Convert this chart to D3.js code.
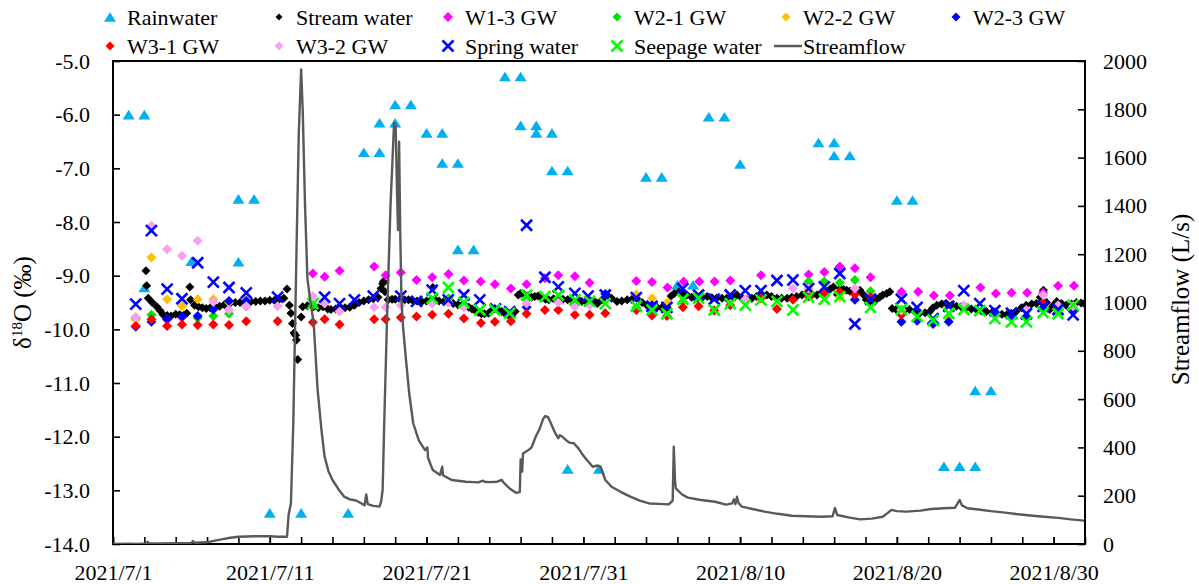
<!DOCTYPE html>
<html>
<head>
<meta charset="utf-8">
<script src="https://cdn.jsdelivr.net/npm/d3@7"></script>
<style>
body{margin:0;background:#fff;}
svg{display:block;}
text{font-family:"Liberation Serif","Times New Roman",serif;fill:#000;}
</style>
</head>
<body>
<div id="chart"></div>
<script>
// x labels and axis ticks
var xLabels = ["2021/7/1","2021/7/11","2021/7/21","2021/7/31","2021/8/10","2021/8/20","2021/8/30"];
var leftTicks = [-14,-13,-12,-11,-10,-9,-8,-7,-6,-5];
var rightTicks = [0,200,400,600,800,1000,1200,1400,1600,1800,2000];

// all series: [day since 2021/7/1 00:00, value]
var rainwater = [[1,-6.0],[2,-6.0],[2,-9.22],[5,-8.73],[8,-7.57],[8,-8.74],[9,-7.57],[10,-13.42],[12,-13.42],[15,-13.42],
	[16,-6.7],[17,-6.7],[17,-6.15],[18,-6.15],[18,-5.81],[19,-5.81],[20,-6.34],[21,-6.34],[21,-6.9],[22,-6.9],[22,-8.51],[23,-8.51],
	[25,-5.29],[26,-5.29],[26,-6.2],[27,-6.2],[27,-6.34],[28,-6.34],[28,-7.04],[29,-7.04],[29,-12.6],[31,-12.6],[34,-7.16],[35,-7.16],
	[36,-9.17],[37,-9.17],[38,-6.04],[39,-6.04],[40,-6.92],[45,-6.52],[46,-6.52],[46,-6.76],[47,-6.76],[50,-7.59],[51,-7.59],
	[53,-12.55],[54,-12.55],[55,-12.55],[55,-11.14],[56,-11.14]];

var streamWater = [[2.1,-8.91],[2.15,-9.19],[2.25,-9.42],[2.5,-9.5],[2.8,-9.58],[3.0,-9.65],[3.2,-9.73],[3.45,-9.74],[3.7,-9.75],[4.0,-9.72],
	[4.25,-9.73],[4.5,-9.74],[4.7,-9.7],[4.9,-9.21],[4.95,-9.45],[5.2,-9.55],[5.45,-9.58],[5.7,-9.6],[5.95,-9.61],[6.2,-9.6],[6.5,-9.58],
	[6.8,-9.57],[7.1,-9.54],[7.45,-9.52],[7.8,-9.5],[8.1,-9.5],[8.5,-9.49],[8.8,-9.48],[9.1,-9.48],[9.4,-9.47],[9.7,-9.47],[10.0,-9.46],
	[10.3,-9.46],[10.6,-9.44],[10.9,-9.42],[11.1,-9.25],[11.25,-9.55],[11.35,-9.7],[11.45,-9.89],[11.55,-10.07],[11.65,-10.11],[11.7,-10.2],
	[11.78,-10.56],[12.0,-9.77],[12.1,-9.58],[12.4,-9.56],[12.8,-9.58],[13.1,-9.6],[13.4,-9.58],[13.7,-9.62],[13.9,-9.63],[14.2,-9.62],
	[14.5,-9.61],[14.8,-9.6],[15.1,-9.59],[15.4,-9.55],[15.7,-9.5],[16.0,-9.47],[16.3,-9.45],[16.6,-9.43],[16.9,-9.4],[17.1,-9.24],
	[17.2,-9.15],[17.25,-9.11],[17.35,-9.3],[17.55,-9.45],[17.8,-9.44],[18.0,-9.44],[18.3,-9.44],[18.6,-9.45],[18.85,-9.45],[19.1,-9.46],
	[19.4,-9.47],[19.7,-9.48],[20.0,-9.47],[20.3,-9.45],[20.4,-9.22],[20.55,-9.45],[20.8,-9.47],[21.1,-9.48],[21.4,-9.5],[21.7,-9.52],
	[22.0,-9.54],[22.25,-9.55],[22.5,-9.57],[22.7,-9.59],[22.9,-9.62],[23.1,-9.65],[23.3,-9.68],[23.5,-9.71],[23.7,-9.71],[23.95,-9.7],
	[24.15,-9.65],[24.35,-9.61],[24.55,-9.64],[24.8,-9.67],[25.0,-9.7],[25.2,-9.73],[25.4,-9.7],[25.65,-9.67],[25.85,-9.36],[26.0,-9.33],
	[26.2,-9.34],[26.45,-9.38],[26.7,-9.4],[26.9,-9.39],[27.1,-9.38],[27.35,-9.41],[27.6,-9.44],[27.8,-9.45],[28.1,-9.43],[28.4,-9.42],
	[28.7,-9.44],[29.0,-9.45],[29.3,-9.46],[29.6,-9.47],[29.9,-9.48],[30.2,-9.49],[30.5,-9.48],[30.75,-9.49],[30.9,-9.52],[31.2,-9.45],
	[31.5,-9.36],[31.8,-9.42],[32.15,-9.48],[32.45,-9.47],[32.8,-9.45],[33.1,-9.44],[33.4,-9.42],[33.75,-9.5],[34.05,-9.55],[34.4,-9.58],
	[34.7,-9.59],[35.0,-9.6],[35.35,-9.59],[35.6,-9.38],[35.8,-9.33],[36.1,-9.3],[36.35,-9.33],[36.6,-9.36],[36.9,-9.4],[37.25,-9.42],
	[37.55,-9.4],[37.9,-9.39],[38.2,-9.41],[38.5,-9.42],[38.85,-9.42],[39.15,-9.42],[39.5,-9.39],[39.8,-9.36],[40.1,-9.41],[40.45,-9.45],
	[40.75,-9.42],[41.05,-9.39],[41.4,-9.37],[41.7,-9.36],[42.0,-9.39],[42.35,-9.42],[42.65,-9.42],[43.0,-9.42],[43.3,-9.4],[43.6,-9.39],
	[43.95,-9.36],[44.25,-9.33],[44.6,-9.35],[44.9,-9.36],[45.2,-9.33],[45.5,-9.3],[45.75,-9.25],[45.95,-9.21],[46.2,-9.35],[46.4,-9.24],
	[46.6,-9.26],[46.8,-9.27],[47.0,-9.29],[47.2,-9.3],[47.45,-9.28],[47.65,-9.27],[47.85,-9.35],[48.05,-9.45],[48.3,-9.47],[48.5,-9.48],
	[48.7,-9.44],[48.9,-9.4],[49.1,-9.36],[49.35,-9.33],[49.55,-9.3],[49.7,-9.61],[49.95,-9.63],[50.2,-9.64],[50.5,-9.64],[50.8,-9.63],
	[51.15,-9.67],[51.45,-9.7],[51.8,-9.69],[52.1,-9.67],[52.3,-9.6],[52.55,-9.55],[52.85,-9.53],[53.15,-9.52],[53.5,-9.55],[53.8,-9.57],
	[54.1,-9.58],[54.45,-9.59],[54.75,-9.62],[55.1,-9.64],[55.4,-9.66],[55.7,-9.67],[56.05,-9.69],[56.35,-9.7],[56.7,-9.72],[57.0,-9.73],
	[57.3,-9.7],[57.6,-9.67],[57.95,-9.6],[58.25,-9.55],[58.6,-9.53],[58.9,-9.52],[59.15,-9.4],[59.35,-9.27],[59.55,-9.5],[59.75,-9.63],
	[60.0,-9.55],[60.2,-9.48],[60.5,-9.52],[60.8,-9.55],[61.15,-9.53],[61.45,-9.5],[61.75,-9.51],[61.95,-9.52]];

var w13 = [[1.45,-9.78],[3.45,-9.81],[4.4,-9.78],[8.5,-9.57],[12.75,-8.96],[13.5,-9.02],[14.45,-8.91],[16.66,-8.83],[17.39,-8.99],
	[18.36,-8.94],[19.36,-9.08],[20.36,-9.03],[21.4,-8.97],[22.38,-9.09],[23.45,-9.11],[24.36,-9.16],[25.38,-9.24],[26.38,-9.16],
	[27.55,-9.05],[28.4,-8.99],[29.46,-9.01],[30.4,-9.13],[33.38,-9.1],[34.38,-9.12],[35.37,-9.22],[36.4,-9.11],[37.4,-9.11],[38.37,-9.11],
	[39.37,-9.09],[41.33,-8.99],[44.37,-8.98],[45.37,-8.93],[46.36,-8.83],[47.32,-8.86],[48.32,-9.03],[50.29,-9.3],[51.36,-9.3],
	[52.36,-9.37],[53.38,-9.37],[55.33,-9.22],[56.31,-9.33],[57.31,-9.32],[58.31,-9.32],[59.33,-9.32],[60.28,-9.19],[61.3,-9.19]];

var w21 = [[1.45,-9.8],[2.45,-9.73],[5.4,-9.79],[6.4,-9.75],[7.4,-9.71],[12.75,-9.55],[21.4,-9.42],[26.38,-9.45],[33.38,-9.6],
	[36.35,-9.48],[44.37,-9.11],[45.37,-9.11],[46.36,-9.13],[47.32,-9.08],[48.32,-9.29],[50.29,-9.63],[58.26,-9.65],[61.24,-9.58]];

var w22 = [[1.45,-9.82],[2.45,-8.66],[3.45,-9.44],[4.4,-9.57],[5.4,-9.44],[6.4,-9.44],[7.4,-9.5],[8.5,-9.44],[33.38,-9.35],
	[34.38,-9.42],[35.37,-9.5],[44.37,-9.27],[46.36,-9.4],[53.31,-9.8]];

var w23 = [[1.45,-9.95],[2.45,-9.86],[3.45,-9.81],[4.4,-9.76],[5.4,-9.75],[6.4,-9.63],[7.4,-9.47],[8.5,-9.47],[26.38,-9.59],
	[31.4,-9.34],[34.38,-9.55],[47.32,-9.45],[50.29,-9.86],[51.29,-9.84],[52.31,-9.9],[53.31,-9.86],[56.25,-9.68],[57.31,-9.76],
	[58.26,-9.76],[59.33,-9.6],[60.28,-9.63],[61.24,-9.67]];

var w31 = [[1.45,-9.94],[2.45,-9.81],[3.45,-9.94],[4.4,-9.91],[5.4,-9.92],[6.4,-9.91],[7.4,-9.92],[8.5,-9.85],[10.5,-9.85],
	[12.75,-9.87],[13.5,-9.81],[14.45,-9.91],[16.66,-9.81],[17.39,-9.81],[18.36,-9.78],[19.36,-9.76],[20.36,-9.73],[21.4,-9.71],
	[22.38,-9.8],[23.47,-9.88],[24.36,-9.86],[25.38,-9.85],[26.38,-9.71],[27.55,-9.64],[28.4,-9.64],[29.46,-9.73],[30.4,-9.73],
	[31.4,-9.7],[33.38,-9.64],[34.38,-9.74],[35.33,-9.75],[36.35,-9.59],[37.35,-9.57],[38.35,-9.65],[39.37,-9.55],[40.33,-9.45],
	[41.33,-9.42],[42.35,-9.62],[43.37,-9.45],[44.37,-9.39],[45.37,-9.32],[46.36,-9.3],[47.32,-9.35],[48.32,-9.4],[50.29,-9.73],[59.33,-9.5]];

var w32 = [[1.45,-9.77],[2.45,-8.07],[3.45,-8.51],[4.4,-8.63],[5.4,-8.35],[6.4,-9.49],[7.4,-9.64],[8.5,-9.57],[10.5,-9.57],
	[12.75,-9.38],[13.5,-9.52],[14.45,-9.67],[16.66,-9.59],[17.39,-9.59],[18.36,-9.55],[20.36,-9.52],[21.4,-9.5],[22.38,-9.59],
	[26.38,-9.52],[28.4,-9.5],[29.46,-9.58],[30.4,-9.55],[40.33,-9.44],[43.37,-9.24],[44.37,-9.24],[47.32,-9.24],[50.29,-9.65],
	[54.27,-9.55],[58.26,-9.64],[59.33,-9.36],[60.28,-9.55],[61.24,-9.57]];

var springWater = [[1.45,-9.53],[2.45,-8.16],[3.45,-9.25],[4.4,-9.43],[5.4,-8.76],[6.4,-9.12],[7.4,-9.22],[8.5,-9.32],[10.5,-9.4],
	[13.5,-9.4],[14.45,-9.52],[15.4,-9.45],[16.6,-9.38],[18.36,-9.38],[19.36,-9.48],[20.36,-9.27],[21.38,-9.45],[22.38,-9.36],
	[23.4,-9.45],[24.4,-9.62],[25.3,-9.67],[26.38,-8.06],[27.55,-9.03],[28.4,-9.21],[29.46,-9.33],[30.3,-9.38],[31.4,-9.36],
	[33.38,-9.41],[34.38,-9.57],[35.33,-9.59],[36.35,-9.24],[37.35,-9.36],[38.35,-9.44],[39.37,-9.36],[40.33,-9.28],[41.33,-9.28],
	[42.35,-9.09],[43.37,-9.08],[44.37,-9.24],[45.37,-9.21],[46.36,-8.96],[47.32,-9.9],[48.32,-9.44],[50.29,-9.44],[51.29,-9.59],
	[52.31,-9.8],[53.31,-9.57],[54.27,-9.28],[55.29,-9.52],[56.25,-9.65],[57.31,-9.7],[58.26,-9.71],[59.33,-9.57],[60.28,-9.63],[61.24,-9.73]];

var seepageWater = [[12.75,-9.52],[20.36,-9.42],[21.4,-9.22],[22.38,-9.5],[23.4,-9.64],[24.36,-9.64],[25.3,-9.7],[26.38,-9.36],
	[27.55,-9.39],[28.4,-9.36],[29.46,-9.45],[30.4,-9.48],[31.4,-9.52],[33.38,-9.57],[34.38,-9.64],[35.33,-9.71],[36.35,-9.44],
	[37.35,-9.42],[38.35,-9.64],[39.37,-9.52],[40.33,-9.55],[41.33,-9.45],[42.35,-9.48],[43.37,-9.64],[44.37,-9.4],[45.37,-9.44],
	[46.36,-9.39],[48.32,-9.59],[50.29,-9.63],[51.29,-9.76],[52.31,-9.83],[53.31,-9.7],[54.27,-9.63],[55.29,-9.65],[56.25,-9.8],
	[57.31,-9.86],[58.26,-9.86],[59.33,-9.69],[60.28,-9.71],[61.24,-9.55]];

var streamflow = [[0,0],[1.0,1],[1.5,0],[2.15,2],[2.2,9],[2.3,3],[3,2],[4,3],[5.0,4],[5.1,12],[5.2,5],[6,7],[6.5,14],[7,20],
	[7.5,26],[8,30],[9,32],[10,32],[10.5,30],[11.1,30],[11.2,120],[11.35,170],[11.5,500],[11.7,1200],[11.85,1700],[12.0,1965],
	[12.1,1800],[12.25,1400],[12.4,1100],[12.6,1000],[12.8,915],[13.05,640],[13.3,470],[13.5,361],[13.75,300],[14.0,265],[14.4,225],
	[14.75,196],[15.1,185],[15.5,180],[15.8,170],[16.05,160],[16.15,205],[16.25,165],[16.6,158],[17.0,155],[17.1,175],[17.2,224],
	[17.3,500],[17.5,980],[17.7,1400],[17.93,1745],[18.03,1730],[18.12,1450],[18.18,1300],[18.25,1666],[18.32,1300],[18.4,1010],
	[18.5,900],[18.67,776],[18.9,620],[19.15,500],[19.5,430],[19.9,389],[20.05,400],[20.1,355],[20.4,306],[20.86,286],[21.0,320],
	[21.05,285],[21.6,265],[22.0,262],[22.5,258],[23.0,256],[23.3,255],[23.6,262],[23.7,258],[24.0,256],[24.5,258],[24.8,265],
	[24.9,255],[25.3,230],[25.7,212],[25.95,215],[26.0,350],[26.1,300],[26.15,375],[26.5,389],[26.7,400],[26.96,444],[27.2,475],
	[27.45,520],[27.57,530],[27.75,525],[27.93,500],[28.2,460],[28.4,438],[28.5,450],[28.67,444],[28.9,430],[29.1,420],[29.4,417],
	[29.7,395],[29.9,375],[30.2,350],[30.6,320],[30.9,325],[31.1,320],[31.4,265],[31.8,237],[32.4,215],[33.0,196],[33.6,180],
	[34.2,168],[34.8,166],[35.45,164],[35.7,180],[35.77,403],[35.85,260],[35.9,230],[36.3,205],[36.67,192],[37.5,182],[38.4,175],
	[39.1,163],[39.5,168],[39.6,185],[39.7,165],[39.8,196],[39.9,170],[40.1,155],[40.8,145],[41.55,134],[42.4,125],[43.3,117],
	[44.2,115],[45.2,113],[45.9,115],[46.05,149],[46.2,120],[46.9,110],[47.65,102],[48.4,105],[49.1,113],[49.4,128],[49.65,141],
	[50.0,136],[50.6,134],[51.5,138],[52.2,145],[53.0,148],[53.7,150],[54.0,182],[54.15,160],[54.5,148],[55.2,143],[56.0,136],
	[56.9,130],[57.6,124],[58.5,118],[59.4,113],[60.3,108],[61.1,102],[61.95,97]];

var width = 1199, height = 584;
var plotL = 113, plotR = 1085, plotT = 61, plotB = 544;

var parseDay = d3.timeParse("%Y/%m/%d");
var start = parseDay(xLabels[0]);
function dayToDate(d){ return new Date(start.getTime() + d*864e5); }

var x = d3.scaleTime().domain([dayToDate(0), dayToDate(62)]).range([plotL, plotR]);
var yL = d3.scaleLinear().domain([-14, -5]).range([plotB, plotT]);
var yR = d3.scaleLinear().domain([0, 2000]).range([plotB, plotT]);

// marker shapes (size = full width)
var triangle = {draw: function(ctx, s){ var h = s*0.8; ctx.moveTo(0,-h/2); ctx.lineTo(s/2,h/2); ctx.lineTo(-s/2,h/2); ctx.closePath(); }};
var diamond = {draw: function(ctx, s){ var r = s/2; ctx.moveTo(0,-r); ctx.lineTo(r,0); ctx.lineTo(0,r); ctx.lineTo(-r,0); ctx.closePath(); }};
var cross = {draw: function(ctx, s){ var r = s/2; ctx.moveTo(-r,-r); ctx.lineTo(r,r); ctx.moveTo(r,-r); ctx.lineTo(-r,r); }};

var series = [
	{name:"Rainwater", data:rainwater, type:triangle, size:12, color:"#00b0f0", lsize:12},
	{name:"Stream water", data:streamWater, type:diamond, size:9, color:"#000000", lsize:7},
	{name:"W1-3 GW", data:w13, type:diamond, size:10, color:"#ff00ff", lsize:10},
	{name:"W2-1 GW", data:w21, type:diamond, size:10, color:"#00e400", lsize:9},
	{name:"W2-2 GW", data:w22, type:diamond, size:10, color:"#ffc000", lsize:9},
	{name:"W2-3 GW", data:w23, type:diamond, size:10, color:"#0000ff", lsize:9},
	{name:"W3-1 GW", data:w31, type:diamond, size:10, color:"#ff0000", lsize:9},
	{name:"W3-2 GW", data:w32, type:diamond, size:10, color:"#f8a0f4", lsize:9},
	{name:"Spring water", data:springWater, type:cross, size:11, color:"#0000ff", lsize:11, stroke:true},
	{name:"Seepage water", data:seepageWater, type:cross, size:11, color:"#00ff00", lsize:11, stroke:true}
];

var svg = d3.select("#chart").append("svg")
	.attr("width", width)
	.attr("height", height);

svg.append("defs").append("clipPath").attr("id", "plotclip")
	.append("rect").attr("x", plotL).attr("y", plotT - 8).attr("width", plotR - plotL).attr("height", plotB - plotT + 8);

// axes
var gL = svg.append("g").attr("transform", "translate(" + plotL + ",0)")
	.call(d3.axisLeft(yL).tickValues(leftTicks).tickSizeInner(-7).tickSizeOuter(0).tickPadding(23)
		.tickFormat(function(d){ return d.toFixed(1); }));
var gR = svg.append("g").attr("transform", "translate(" + plotR + ",0)")
	.call(d3.axisRight(yR).tickValues(rightTicks).tickSizeInner(-7).tickSizeOuter(0).tickPadding(18)
		.tickFormat(d3.format("d")));
var gB = svg.append("g").attr("transform", "translate(0," + plotB + ")")
	.call(d3.axisBottom(x).tickValues(xLabels.map(parseDay)).tickSizeInner(-7).tickSizeOuter(0).tickPadding(20)
		.tickFormat(function(d, i){ return xLabels[i]; }));
var gMinor = svg.append("g").attr("transform", "translate(0," + plotB + ")")
	.call(d3.axisBottom(x).tickValues(d3.range(0, 63, 2).map(dayToDate)).tickSizeInner(-7).tickSizeOuter(0).tickFormat(""));

[gL, gR, gB, gMinor].forEach(function(g){
	g.select(".domain").remove();
	g.selectAll(".tick line").attr("stroke", "#000").attr("stroke-width", 1.6);
	g.selectAll(".tick text").attr("font-size", 22).attr("font-family", "Liberation Serif");
});

// frame
svg.append("rect")
	.attr("x", plotL).attr("y", plotT)
	.attr("width", plotR - plotL).attr("height", plotB - plotT)
	.attr("fill", "none").attr("stroke", "#000").attr("stroke-width", 2);

// scatter series
var plot = svg.append("g").attr("clip-path", "url(#plotclip)");
series.forEach(function(s){
	var sym = d3.symbol().type(s.type).size(s.size);
	plot.append("g").selectAll("path")
		.data(s.data)
		.join("path")
		.attr("transform", function(d){ return "translate(" + x(dayToDate(d[0])) + "," + yL(d[1]) + ")"; })
		.attr("d", sym)
		.attr("fill", s.stroke ? "none" : s.color)
		.attr("stroke", s.stroke ? s.color : "none")
		.attr("stroke-width", s.stroke ? 2.6 : 0);
});

// streamflow line on right axis
var line = d3.line()
	.x(function(d){ return x(dayToDate(d[0])); })
	.y(function(d){ return yR(d[1]); });
plot.append("path")
	.datum(streamflow)
	.attr("d", line)
	.attr("fill", "none")
	.attr("stroke", "#595959")
	.attr("stroke-width", 2.4)
	.attr("stroke-linejoin", "round");

// legend
var colX = [110, 279, 448, 617, 786, 956];
var rowY = [17, 46];
var legend = svg.append("g");
series.concat([{name:"Streamflow", line:true}]).forEach(function(s, i){
	var cx = colX[i % 6], cy = rowY[Math.floor(i / 6)];
	if(s.line)
	{
		legend.append("line").attr("x1", cx - 12).attr("x2", cx + 16).attr("y1", cy).attr("y2", cy)
			.attr("stroke", "#595959").attr("stroke-width", 2.5);
		legend.append("text").attr("x", cx + 17).attr("y", cy + 8).attr("font-size", 22).text(s.name);
		return;
	}
	legend.append("path")
		.attr("transform", "translate(" + cx + "," + cy + ")")
		.attr("d", d3.symbol().type(s.type).size(s.lsize))
		.attr("fill", s.stroke ? "none" : s.color)
		.attr("stroke", s.stroke ? s.color : "none")
		.attr("stroke-width", s.stroke ? 2.6 : 0);
	legend.append("text").attr("x", cx + 17).attr("y", cy + 8).attr("font-size", 22).text(s.name);
});

// axis titles
var lt = svg.append("text")
	.attr("transform", "translate(31," + ((plotT + plotB) / 2) + ") rotate(-90)")
	.attr("text-anchor", "middle")
	.attr("font-size", 25);
lt.append("tspan").text("δ");
lt.append("tspan").attr("font-size", 15).attr("dy", -9).text("18");
lt.append("tspan").attr("dy", 9).text("O (‰)");

svg.append("text")
	.attr("transform", "translate(1189," + ((plotT + plotB) / 2 - 3) + ") rotate(-90)")
	.attr("text-anchor", "middle")
	.attr("font-size", 25)
	.text("Streamflow (L/s)");
</script>
</body>
</html>
